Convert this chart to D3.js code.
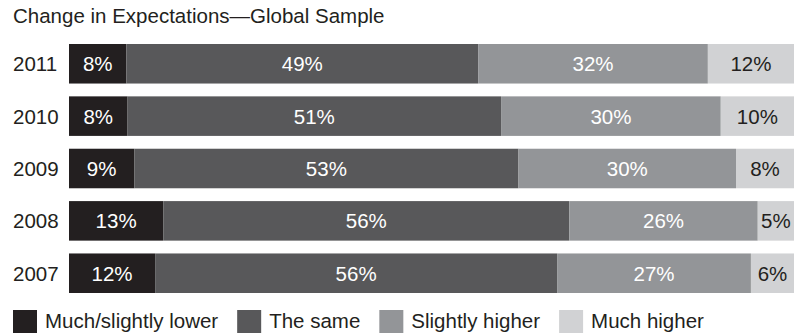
<!DOCTYPE html>
<html>
<head>
<meta charset="utf-8">
<script src="https://cdn.jsdelivr.net/npm/d3@7"></script>
<style>
  body { margin: 0; background: #fff; }
  svg text { font-family: "Liberation Sans", Arial, Helvetica, sans-serif; }
</style>
</head>
<body>
<div id="chart"></div>
<script>
const title = "Change in Expectations\u2014Global Sample";
const years = ["2011", "2010", "2009", "2008", "2007"];
const categories = ["Much/slightly lower", "The same", "Slightly higher", "Much higher"];
const lowerValues = [8, 8, 9, 13, 12];
const sameValues = [49, 51, 53, 56, 56];
const slightlyHigherValues = [32, 30, 30, 26, 27];
const muchHigherValues = [12, 10, 8, 5, 6];
const colors = ["#231f20", "#58585a", "#939598", "#d1d2d4"];
const textColors = ["#fff", "#fff", "#fff", "#231f20"];

const width = 794, height = 334;
const margin = { top: 44, right: 0, bottom: 41, left: 69 };
const fontSize = 20.5;

const svg = d3.select("#chart").append("svg")
    .attr("width", width)
    .attr("height", height);

svg.append("text")
    .attr("x", 13)
    .attr("y", 23)
    .attr("font-size", fontSize)
    .attr("fill", "#231f20")
    .text(title);

const seriesValues = [lowerValues, sameValues, slightlyHigherValues, muchHigherValues];
const rows = years.map((year, i) => {
    const vals = seriesValues.map(s => s[i]);
    const total = d3.sum(vals);
    let acc = 0;
    const segs = vals.map((v, k) => {
        const s = { k, v, x0: acc / total, x1: (acc + v) / total };
        acc += v;
        return s;
    });
    return { year, segs };
});

const x = d3.scaleLinear()
    .domain([0, 1])
    .range([margin.left, width - margin.right]);

const y = d3.scaleBand()
    .domain(years)
    .range([margin.top, height - margin.bottom])
    .paddingInner(0.245)
    .paddingOuter(0);

const row = svg.selectAll("g.row")
    .data(rows)
    .join("g")
    .attr("class", "row")
    .attr("transform", d => `translate(0,${y(d.year)})`);

row.append("text")
    .attr("x", 13)
    .attr("y", y.bandwidth() / 2)
    .attr("dy", "0.36em")
    .attr("font-size", fontSize)
    .attr("fill", "#231f20")
    .text(d => d.year);

const seg = row.selectAll("g.seg")
    .data(d => d.segs)
    .join("g")
    .attr("class", "seg");

seg.append("rect")
    .attr("x", d => x(d.x0))
    .attr("y", 0)
    .attr("width", d => x(d.x1) - x(d.x0))
    .attr("height", y.bandwidth())
    .attr("fill", d => colors[d.k]);

seg.append("text")
    .attr("x", d => (x(d.x0) + x(d.x1)) / 2)
    .attr("y", y.bandwidth() / 2)
    .attr("dy", "0.36em")
    .attr("text-anchor", "middle")
    .attr("font-size", fontSize)
    .attr("fill", d => textColors[d.k])
    .text(d => d.v + "%");

// legend
const legend = svg.append("g").attr("transform", "translate(13,310)");
let lx = 0;
categories.forEach((c, i) => {
    legend.append("rect")
        .attr("x", lx)
        .attr("y", 0)
        .attr("width", 24)
        .attr("height", 23)
        .attr("fill", colors[i]);
    const t = legend.append("text")
        .attr("x", lx + 32)
        .attr("y", 17.5)
        .attr("font-size", fontSize)
        .attr("fill", "#231f20")
        .text(c);
    lx += 32 + t.node().getComputedTextLength() + 19;
});
</script>
</body>
</html>
